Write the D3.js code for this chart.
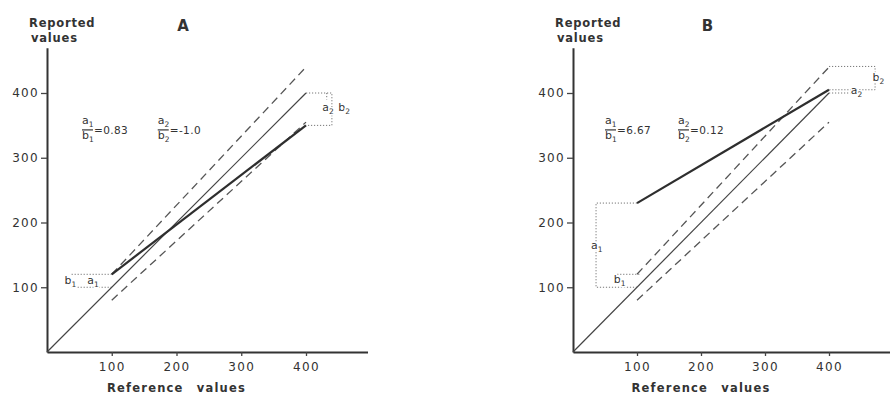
<!DOCTYPE html>
<html>
<head>
<meta charset="utf-8">
<script src="https://cdn.jsdelivr.net/npm/d3@7"></script>
<style>
body { margin: 0; background: #fff; }
text { font-family: "DejaVu Sans", sans-serif; fill: #333; }
.halo { paint-order: stroke; stroke: #fff; stroke-width: 3px; stroke-linejoin: round; }
</style>
</head>
<body>
<svg id="chart" width="890" height="395"></svg>
<script>
const tickValues = [100, 200, 300, 400];
const panelNames = ["A", "B"];

// lines, [reference, reported]
const identityLine = [[0, 0], [400, 400]];
const upperLimit = [[100, 120], [400, 440]];
const lowerLimit = [[100, 80], [400, 355]];
const reportedA = [[100, 120], [400, 350]];
const reportedB = [[100, 230], [400, 405]];

// ratio labels: subscript, value
const ratiosA = [["1", "0.83"], ["2", "-1.0"]];
const ratiosB = [["1", "6.67"], ["2", "0.12"]];

// dotted brackets
const bracketsA = [
	[[38, 120], [100, 120]],
	[[38, 100], [100, 100]],
	[[400, 400], [440, 400], [440, 350], [400, 350]],
	[[432, 400], [432, 390]]
];
const bracketsB = [
	[[100, 230], [36, 230], [36, 100], [100, 100]],
	[[69, 120], [104, 120]],
	[[400, 441], [472, 441], [472, 405], [400, 405]],
	[[400, 400], [440, 400]]
];

const svg = d3.select("#chart");

const y = d3.scaleLinear().domain([0, 470]).range([352, 352 - 470 * 0.6475]);

const panels = [
	{ name: panelNames[0], x: d3.scaleLinear().domain([0, 495]).range([47, 47 + 495 * 0.6475]),
	  reported: reportedA, ratios: ratiosA, brackets: bracketsA,
	  ratioAt: [54, 171],
	  labels: [["b", "1", 36, 105], ["a", "1", 71, 105], ["a", "2", 434, 372], ["b", "2", 459, 372]] },
	{ name: panelNames[1], x: d3.scaleLinear().domain([0, 495]).range([573, 573 + 495 * 0.64]),
	  reported: reportedB, ratios: ratiosB, brackets: bracketsB,
	  ratioAt: [50, 164],
	  labels: [["a", "1", 37, 159], ["b", "1", 73, 107], ["a", "2", 443, 399], ["b", "2", 477, 418]] }
];

const subLabel = (g, letter, sub, px, py, cls, anchor) => {
	let t = g.append("text")
	.attr("x", px)
	.attr("y", py)
	.attr("font-size", 11)
	.attr("text-anchor", anchor || "middle");
	if (cls) t.attr("class", cls);
	t.append("tspan").text(letter);
	t.append("tspan").attr("dy", 3).attr("font-size", 7.5).text(sub);
	return t;
}

panels.forEach(p => {
	const x = p.x;
	const g = svg.append("g");
	const line = d3.line().x(d => x(d[0])).y(d => y(d[1]));

	// axes
	const yAxis = g.append("g")
	.attr("transform", "translate(" + x(0) + ",0)")
	.call(d3.axisLeft(y).tickValues(tickValues).tickSize(6).tickPadding(2).tickSizeOuter(0));

	const xAxis = g.append("g")
	.attr("transform", "translate(0," + y(0) + ")")
	.call(d3.axisBottom(x).tickValues(tickValues).tickSize(4).tickPadding(6).tickSizeOuter(0));

	[yAxis, xAxis].forEach(a => {
		a.select(".domain").attr("stroke", "#333").attr("stroke-width", 2);
		a.selectAll(".tick line").attr("stroke", "#444").attr("stroke-width", 1.3);
		a.selectAll(".tick text")
		.attr("font-family", "DejaVu Sans, sans-serif")
		.attr("font-size", 12)
		.attr("letter-spacing", 1.3)
		.attr("fill", "#2a2a2a");
	});

	// dotted brackets
	g.selectAll(".bracket")
	.data(p.brackets)
	.enter()
	.append("path")
	.attr("class", "bracket")
	.attr("d", line)
	.attr("fill", "none")
	.attr("stroke", "#777")
	.attr("stroke-width", 1)
	.attr("stroke-dasharray", "1.2,1.8");

	// limits
	g.selectAll(".limit")
	.data([upperLimit, lowerLimit])
	.enter()
	.append("path")
	.attr("class", "limit")
	.attr("d", line)
	.attr("fill", "none")
	.attr("stroke", "#555")
	.attr("stroke-width", 1.3)
	.attr("stroke-dasharray", "8,5");

	g.append("path")
	.attr("d", line(identityLine))
	.attr("fill", "none")
	.attr("stroke", "#444")
	.attr("stroke-width", 1.2);

	g.append("path")
	.attr("d", line(p.reported))
	.attr("fill", "none")
	.attr("stroke", "#2e2e2e")
	.attr("stroke-width", 2.2);

	// bracket labels
	p.labels.forEach(l => subLabel(g, l[0], l[1], x(l[2]), y(l[3]), "halo"));

	// ratios
	p.ratios.forEach((r, i) => {
		const px = x(p.ratioAt[i]);
		const py = y(343);
		subLabel(g, "a", r[0], px, py - 6, null, "start");
		g.append("line")
		.attr("x1", px).attr("x2", px + 11)
		.attr("y1", py).attr("y2", py)
		.attr("stroke", "#333").attr("stroke-width", 1.2);
		subLabel(g, "b", r[0], px, py + 9, null, "start");
		g.append("text")
		.attr("x", px + 12)
		.attr("y", py + 4)
		.attr("font-size", 10.5)
		.attr("letter-spacing", 0.4)
		.text("=" + r[1]);
	});

	// titles
	g.append("text")
	.attr("x", x(210))
	.attr("y", 31)
	.attr("text-anchor", "middle")
	.attr("font-size", 15)
	.attr("font-weight", "bold")
	.text(p.name);

	const yt = g.append("text")
	.attr("font-size", 11.5)
	.attr("font-weight", "bold")
	.attr("letter-spacing", 0.8);
	yt.append("tspan").attr("x", x(0) - 18).attr("y", 27).text("Reported");
	yt.append("tspan").attr("x", x(0) - 16).attr("y", 42).text("values");

	g.append("text")
	.attr("x", x(200))
	.attr("y", 392)
	.attr("text-anchor", "middle")
	.attr("font-size", 11.5)
	.attr("font-weight", "bold")
	.attr("letter-spacing", 1.2)
	.attr("word-spacing", 8)
	.text("Reference values");
});
</script>
</body>
</html>
